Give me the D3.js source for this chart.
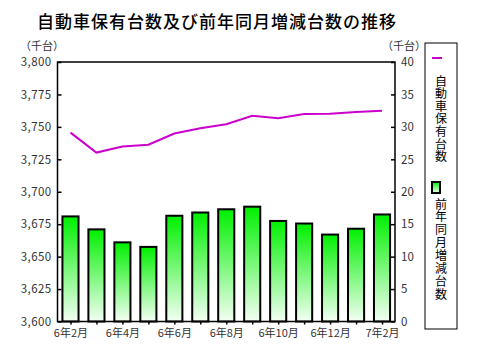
<!DOCTYPE html>
<html><head><meta charset="utf-8">
<script src="https://cdn.jsdelivr.net/npm/d3@7"></script>
<style>
html,body{margin:0;padding:0;background:#fff;}
text{font-family:"Noto Sans CJK JP","Noto Sans",sans-serif;}
</style></head>
<body><svg id="c" width="480" height="360"></svg>
<script>
const months = ["6年2月","6年3月","6年4月","6年5月","6年6月","6年7月","6年8月","6年9月","6年10月","6年11月","6年12月","7年1月","7年2月"];
const holdings = [3745.6,3730.2,3734.9,3736.2,3744.9,3749,3752,3758.5,3756.7,3760,3760.2,3761.5,3762.5];
const changes = [16.2,14.2,12.2,11.5,16.3,16.8,17.3,17.7,15.5,15.1,13.4,14.3,16.5];
const leftTicks = [3600,3625,3650,3675,3700,3725,3750,3775,3800];
const rightTicks = [0,5,10,15,20,25,30,35,40];
const title = "自動車保有台数及び前年同月増減台数の推移";
const unit = "（千台）";
const legendLine = "自動車保有台数";
const legendBar = "前年同月増減台数";

const svg = d3.select("#c");
const L = 57.5, R = 395, T = 62, B = 321.5;

const x = d3.scaleBand().domain(months).range([L, R]).paddingInner(0.38).paddingOuter(0.19);
const xc = d3.scalePoint().domain(months).range([L, R]).padding(0.5);
const yL = d3.scaleLinear().domain([3600, 3800]).range([B, T]);
const yR = d3.scaleLinear().domain([0, 40]).range([B, T]);

const defs = svg.append("defs");
const g = defs.append("linearGradient").attr("id","gg").attr("x1",0).attr("y1",0).attr("x2",0).attr("y2",1);
g.append("stop").attr("offset","0%").attr("stop-color","#00f000");
g.append("stop").attr("offset","100%").attr("stop-color","#f4fff4");

// title
svg.append("text").attr("x", 37).attr("y", 28).attr("font-size", 17).attr("letter-spacing", 1)
  .attr("font-weight", 500).attr("fill", "#000").text(title);

// unit labels
svg.append("text").attr("x", 20).attr("y", 50).attr("font-size", 11).attr("fill", "#333").text(unit);
svg.append("text").attr("x", 382).attr("y", 50).attr("font-size", 11).attr("fill", "#333").text(unit);

// bars
svg.append("g").selectAll("rect").data(changes).join("rect")
  .attr("x", (d,i) => x(months[i]))
  .attr("width", x.bandwidth())
  .attr("y", d => yR(d))
  .attr("height", d => yR(0) - yR(d))
  .attr("fill", "url(#gg)")
  .attr("stroke", "#000").attr("stroke-width", 2);

// line
const line = d3.line().x((d,i) => xc(months[i])).y(d => yL(d));
svg.append("path").datum(holdings).attr("d", line)
  .attr("fill", "none").attr("stroke", "#cc00cc").attr("stroke-width", 2);

// frame
svg.append("rect").attr("x", L).attr("y", T).attr("width", R - L).attr("height", B - T)
  .attr("fill", "none").attr("stroke", "#000").attr("stroke-width", 1.5);

// left axis (inward ticks)
const ax = svg.append("g").attr("transform", `translate(${L},0)`)
  .call(d3.axisLeft(yL).tickValues(leftTicks).tickSize(-4).tickPadding(6).tickFormat(d3.format(",")));
ax.select(".domain").remove();
ax.selectAll("line").attr("stroke", "#000").attr("stroke-width", 1.5);
ax.selectAll("text").attr("font-size", 11.5).attr("letter-spacing", 0.4).attr("fill", "#333").attr("font-family", "Liberation Sans, Arial, sans-serif");

// right axis (inward ticks)
const ar = svg.append("g").attr("transform", `translate(${R},0)`)
  .call(d3.axisRight(yR).tickValues(rightTicks).tickSize(-4).tickPadding(6));
ar.select(".domain").remove();
ar.selectAll("line").attr("stroke", "#000").attr("stroke-width", 1.5);
ar.selectAll("text").attr("font-size", 11.5).attr("fill", "#333").attr("font-family", "Liberation Sans, Arial, sans-serif");

// bottom axis
const ab = svg.append("g").attr("transform", `translate(0,${B})`)
  .call(d3.axisBottom(xc).tickSize(3).tickPadding(5).tickFormat((d,i) => i % 2 === 0 ? d : ""));
ab.select(".domain").remove();
ab.selectAll("line").attr("stroke", "#000").attr("stroke-width", 1.5);
ab.selectAll("text").attr("font-size", 11).attr("fill", "#333");

// legend
const lg = svg.append("g");
lg.append("rect").attr("x", 425).attr("y", 43).attr("width", 32).attr("height", 286)
  .attr("fill", "#fff").attr("stroke", "#000").attr("stroke-width", 1);
lg.append("line").attr("x1", 432).attr("x2", 442).attr("y1", 58).attr("y2", 58)
  .attr("stroke", "#cc00cc").attr("stroke-width", 2);
lg.append("text").attr("x", 441).attr("y", 75)
  .style("writing-mode", "vertical-rl").attr("letter-spacing", 0.6)
  .attr("font-size", 12).attr("fill", "#000").text(legendLine);
lg.append("rect").attr("x", 432).attr("y", 182).attr("width", 8).attr("height", 11)
  .attr("fill", "url(#gg)").attr("stroke", "#000").attr("stroke-width", 2);
lg.append("text").attr("x", 441).attr("y", 198)
  .style("writing-mode", "vertical-rl").attr("letter-spacing", 0.9)
  .attr("font-size", 12).attr("fill", "#000").text(legendBar);
</script></body></html>
